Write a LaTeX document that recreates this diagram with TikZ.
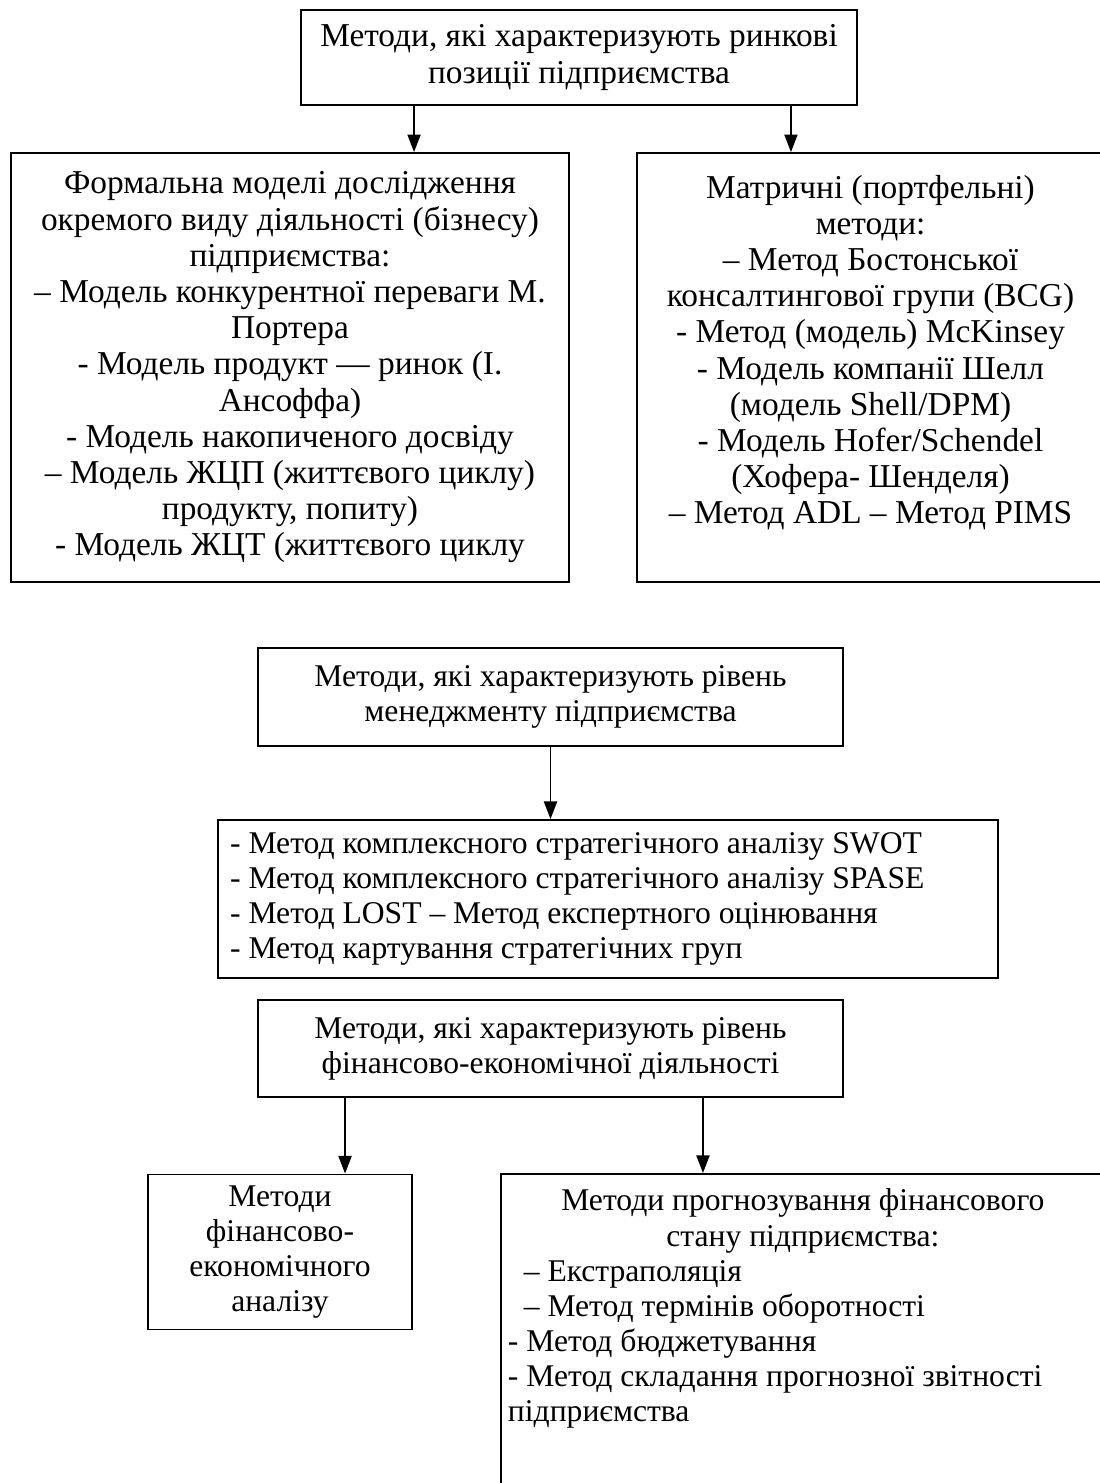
\documentclass[tikz,border=0pt]{standalone}
\usepackage{fontspec}
\setmainfont{Liberation Serif}
\usetikzlibrary{positioning,arrows.meta}

\begin{document}
\begin{tikzpicture}[x=0.02cm, y=-0.02cm, every node/.style={font=\fontsize{19}{20.6}\selectfont,align=center}, box/.style={draw=black,line width=1.1pt,inner sep=0pt}, lower/.style={font=\fontsize{18}{20}\selectfont}, arrow/.style={-{Triangle[length=10pt,width=7.5pt]},line width=0.8pt}]
\useasboundingbox (0,0) rectangle (1099,1483);
\node[box,minimum width=11.12cm,minimum height=1.9cm] (market) at (579,57.5) {Методи, які характеризують ринкові\\позиції підприємства};
\node[box,minimum width=11.16cm,minimum height=8.58cm] (formal) at (290,367.5) {Формальна моделі дослідження\\окремого виду діяльності (бізнесу)\\підприємства:\\– Модель конкурентної переваги М.\\Портера\\- Модель продукт — ринок (І.\\Ансоффа)\\- Модель накопиченого досвіду\\– Модель ЖЦП (життєвого циклу)\\продукту, попиту)\\- Модель ЖЦТ (життєвого циклу};
\node[box,minimum width=9.34cm,minimum height=8.58cm] (portfolio) at (870.5,367.5) {Матричні (портфельні)\\методи:\\– Метод Бостонської\\консалтингової групи (BCG)\\- Метод (модель) McKinsey\\- Модель компанії Шелл\\(модель Shell/DPM)\\- Модель Hofer/Schendel\\(Хофера- Шенделя)\\– Метод ADL – Метод PIMS\\\mbox{}};
\draw[arrow] ([xshift=-3.3cm]market.south) -- ([xshift=-3.3cm]market.south |- formal.north);
\draw[arrow] ([xshift=4.24cm]market.south) -- ([xshift=4.24cm]market.south |- portfolio.north);

% management level
\node[box,lower,minimum width=11.7cm,minimum height=1.96cm] (mgmt) at (550.5,697) {Методи, які характеризують рівень\\менеджменту підприємства};
\node[box,lower,minimum width=15.6cm,minimum height=3.16cm,text width=15.12cm,inner xsep=0.24cm,align=flush left] (mgmtlist) at (608,899) {- Метод комплексного стратегічного аналізу SWOT\\- Метод комплексного стратегічного аналізу SPASE\\- Метод LOST – Метод експертного оцінювання\\- Метод картування стратегічних груп};
\draw[arrow] (mgmt.south) -- (mgmt.south |- mgmtlist.north);

% financial level
\node[box,lower,minimum width=11.7cm,minimum height=1.94cm] (fin) at (550.5,1048.5) {Методи, які характеризують рівень\\фінансово-економічної діяльності};
\node[box,lower,minimum width=5.28cm,minimum height=3.1cm] (finanalysis) at (280,1252) {Методи\\фінансово-\\економічного\\аналізу};
\node[box,lower,anchor=north west,text width=11.8cm,inner xsep=0.14cm,inner ysep=0.3cm,align=flush left] (forecast) at (500,1173) {{\centering Методи прогнозування фінансового\\стану підприємства:\par}\raggedright\hspace*{0.5em}– Екстраполяція\\\hspace*{0.5em}– Метод термінів оборотності\\- Метод бюджетування\\- Метод складання прогнозної звітності\\підприємства\par\rule{0pt}{2cm}};
\draw[arrow] ([xshift=-4.11cm]fin.south) -- ([xshift=-4.11cm]fin.south |- finanalysis.north);
\draw[arrow] ([xshift=3.05cm]fin.south) -- ([xshift=3.05cm]fin.south |- forecast.north);
\end{tikzpicture}
\end{document}
